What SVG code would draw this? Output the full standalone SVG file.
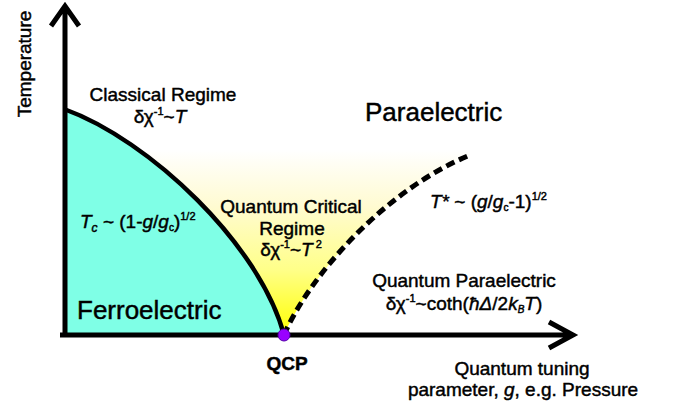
<svg xmlns="http://www.w3.org/2000/svg" width="673" height="407" viewBox="0 0 673 407">
<defs>
<linearGradient id="qc" gradientUnits="userSpaceOnUse" x1="0" y1="335" x2="0" y2="150">
<stop offset="0" stop-color="#ffff00"/>
<stop offset="0.35" stop-color="#ffff88"/>
<stop offset="0.7" stop-color="#fffbd2"/>
<stop offset="1" stop-color="#ffffff"/>
</linearGradient>
<style>
text{font-family:"Liberation Sans",Arial,sans-serif;font-size:19px;fill:#000;stroke:#000;stroke-width:0.45px}
.big{font-size:26px}
.it{font-style:italic}
.sm{font-size:11px}
.ax{fill:none;stroke:#000;stroke-width:5}
</style>
</defs>
<rect width="673" height="407" fill="#fff"/>
<g id="regions">
<path id="quantum-critical-fill" d="M284,335 C310,275 385,190 470,155 L470,109 L64,109 C150,140 260,245 284,335 Z" fill="url(#qc)"/>
<path id="ferro-fill" d="M64,109 C150,140 260,245 284,335 L64,335 Z" fill="#7fffe6"/>
</g>
<g id="connectors">
<path id="tc-line" d="M64,109 C150,140 260,245 284,335" fill="none" stroke="#000" stroke-width="4.5"/>
<path id="tstar-line" d="M284,335 C310,275 385,190 470,155" fill="none" stroke="#000" stroke-width="5" stroke-dasharray="9,5"/>
<path id="y-axis" class="ax" d="M65,337 V6 M51,26 L65,6 L79,26"/>
<path id="x-axis" class="ax" d="M60,335 H572 M549,322 L573,335 L549,348"/>
</g>
<g id="qcp">
<circle cx="284" cy="335" r="6" fill="#9900ff" stroke="#5500aa" stroke-width="1"/>
<text x="287" y="370" text-anchor="middle" font-weight="bold" stroke-width="0.2">QCP</text>
</g>
<g id="labels">
<text transform="translate(31,64) rotate(-90)" text-anchor="middle">Temperature</text>
<text x="163" y="101" text-anchor="middle">Classical Regime</text>
<text x="160" y="123" text-anchor="middle">δχ<tspan class="sm" dy="-8">-1</tspan><tspan dy="8">~</tspan><tspan class="it">T</tspan></text>
<text class="big" x="365" y="121">Paraelectric</text>
<text x="80" y="228"><tspan class="it">T</tspan><tspan class="it" font-size="12" dy="4">c</tspan><tspan dy="-4"> ~ (1-</tspan><tspan class="it">g</tspan>/<tspan class="it">g</tspan><tspan font-size="10" dy="3">c</tspan><tspan dy="-3">)</tspan><tspan class="sm" dy="-8">1/2</tspan></text>
<text x="291" y="213" text-anchor="middle">Quantum Critical</text>
<text x="292" y="235" text-anchor="middle">Regime</text>
<text x="291" y="256" text-anchor="middle">δχ<tspan class="sm" dy="-8">-1</tspan><tspan dy="8">~</tspan><tspan class="it">T</tspan><tspan class="sm" dy="-8"> 2</tspan></text>
<text class="big" x="77" y="319">Ferroelectric</text>
<text x="430" y="208"><tspan class="it">T*</tspan> ~ (<tspan class="it">g</tspan>/<tspan class="it">g</tspan><tspan font-size="10" dy="3">c</tspan><tspan dy="-3">-1)</tspan><tspan class="sm" dy="-8">1/2</tspan></text>
<text x="464" y="287" text-anchor="middle">Quantum Paraelectric</text>
<text x="464" y="310" text-anchor="middle">δχ<tspan class="sm" dy="-8">-1</tspan><tspan dy="8">~coth(</tspan><tspan class="it">ħΔ</tspan>/2<tspan class="it">k</tspan><tspan class="it" font-size="10" dy="3">B</tspan><tspan class="it" dy="-3">T</tspan>)</text>
<text x="522" y="375" text-anchor="middle">Quantum tuning</text>
<text x="523" y="396" text-anchor="middle">parameter, <tspan class="it">g</tspan>, e.g. Pressure</text>
</g>
</svg>
